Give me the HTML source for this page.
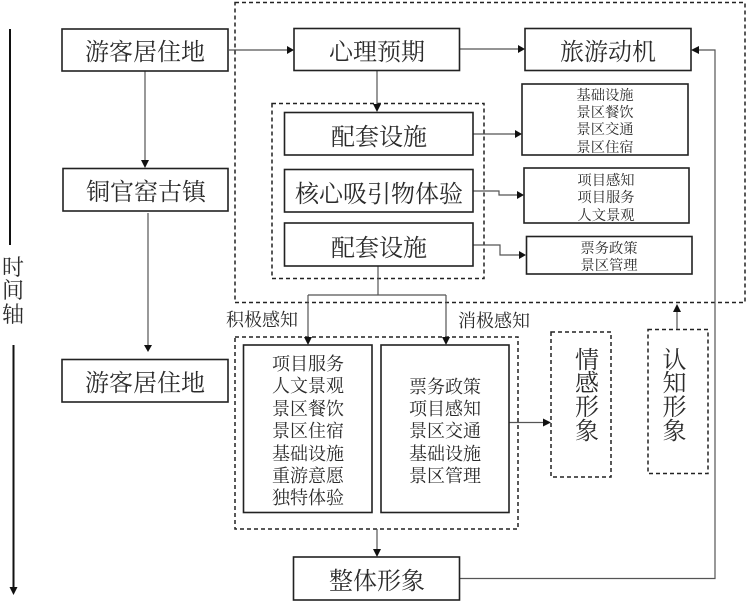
<!DOCTYPE html>
<html><head><meta charset="utf-8">
<style>
html,body{margin:0;padding:0;background:#fff;}
svg{display:block;filter:blur(0.3px);}
text{font-family:"Liberation Serif","Noto Serif CJK SC",serif;fill:#2b2b2b;text-anchor:middle;}
.b{fill:#fff;stroke:#222;stroke-width:1.6;}
.d{fill:none;stroke:#222;stroke-width:1.5;stroke-dasharray:4 3;}
.l{fill:none;stroke:#555;stroke-width:1.2;}
.a{fill:#111;stroke:none;}
.t{font-size:24px;}
.m{font-size:18px;}
.s{font-size:14.3px;}
</style></head>
<body>
<svg width="747" height="602" viewBox="0 0 747 602" xmlns="http://www.w3.org/2000/svg">
<rect class="d" x="235" y="2.5" width="510" height="300"/>
<rect class="d" x="272" y="103.5" width="212" height="175"/>
<rect class="d" x="235" y="337" width="283" height="192"/>
<rect class="d" x="551" y="332" width="60" height="145"/>
<rect class="d" x="648" y="329.5" width="60" height="144"/>

<path class="l" d="M229 50H289M145 71V160M148 213V346M459 49H519M377 70V106M473 134H516M473 191H499V195H518M473 245H500V255H520M378 266V295M308 295H446M308 295V338M446 295V338M509 422.500H545M677 329V311M377 529V550M459 578.500H715V50H698"/>

<path class="a" d="M294 50l-7-4v8zM145 168l-4-8h8zM148 352l-4-7h8zM525 49l-7-4v8zM377 112l-4-8h8zM522 134l-7-4v8zM524 195l-7-4v8zM526 255l-7-4v8zM308 345l-4-8h8zM446 345l-4-8h8zM551 422.500l-8-4v8zM677 304l-4 8h8zM377 557l-4-8h8zM691 50l8-4v8z"/>

<rect class="b" x="62" y="29" width="166" height="42"/>
<rect class="b" x="63" y="168.500" width="165" height="42.500"/>
<rect class="b" x="62" y="359.500" width="166" height="42.500"/>
<rect class="b" x="294" y="28.500" width="165.500" height="42"/>
<rect class="b" x="525" y="28.500" width="166" height="42"/>
<rect class="b" x="284.500" y="112.500" width="188.500" height="42.500"/>
<rect class="b" x="284.500" y="169.500" width="188.500" height="42.500"/>
<rect class="b" x="284.500" y="223" width="188.500" height="43"/>
<rect class="b" x="522" y="84" width="166" height="71"/>
<rect class="b" x="524" y="168" width="165" height="55"/>
<rect class="b" x="526.500" y="236.500" width="165.500" height="37.500"/>
<rect class="b" x="243.500" y="345" width="128.500" height="167.500"/>
<rect class="b" x="381" y="345" width="128" height="167.500"/>
<rect class="b" x="293.500" y="557" width="166" height="43"/>

<path d="M10 29V245" stroke="#111" stroke-width="2" fill="none"/>
<path d="M13.500 345V588" stroke="#111" stroke-width="2" fill="none"/>
<path class="a" d="M13.500 595l-4-8h8z"/>

<g class="t">
<text x="145" y="60">游客居住地</text>
<text x="146" y="200">铜官窑古镇</text>
<text x="145" y="391">游客居住地</text>
<text x="377" y="60">心理预期</text>
<text x="608" y="60">旅游动机</text>
<text x="379" y="145">配套设施</text>
<text x="379" y="202" font-size="24">核心吸引物体验</text>
<text x="379" y="256">配套设施</text>
<text x="377" y="589">整体形象</text>
<text x="587" y="368">情</text><text x="587" y="391">感</text><text x="587" y="415">形</text><text x="587" y="439">象</text>
<text x="674.500" y="368">认</text><text x="674.500" y="391">知</text><text x="674.500" y="415">形</text><text x="674.500" y="439">象</text>
</g>
<g style="font-size:22px">
<text x="13" y="275">时</text><text x="13" y="298">间</text><text x="13" y="322">轴</text>
</g>
<g class="s">
<text x="605" y="100">基础设施</text><text x="605" y="117">景区餐饮</text><text x="605" y="134">景区交通</text><text x="605" y="152">景区住宿</text>
<text x="606" y="185">项目感知</text><text x="606" y="202">项目服务</text><text x="606" y="220">人文景观</text>
<text x="609" y="253">票务政策</text><text x="609" y="270">景区管理</text>
</g>
<g class="m">
<text x="262" y="326">积极感知</text>
<text x="494" y="327">消极感知</text>
<text x="308" y="370">项目服务</text><text x="308" y="392">人文景观</text><text x="308" y="415">景区餐饮</text><text x="308" y="437">景区住宿</text><text x="308" y="460">基础设施</text><text x="308" y="482">重游意愿</text><text x="308" y="504">独特体验</text>
<text x="445" y="393">票务政策</text><text x="445" y="415">项目感知</text><text x="445" y="437">景区交通</text><text x="445" y="460">基础设施</text><text x="445" y="482">景区管理</text>
</g>
</svg>
</body></html>
